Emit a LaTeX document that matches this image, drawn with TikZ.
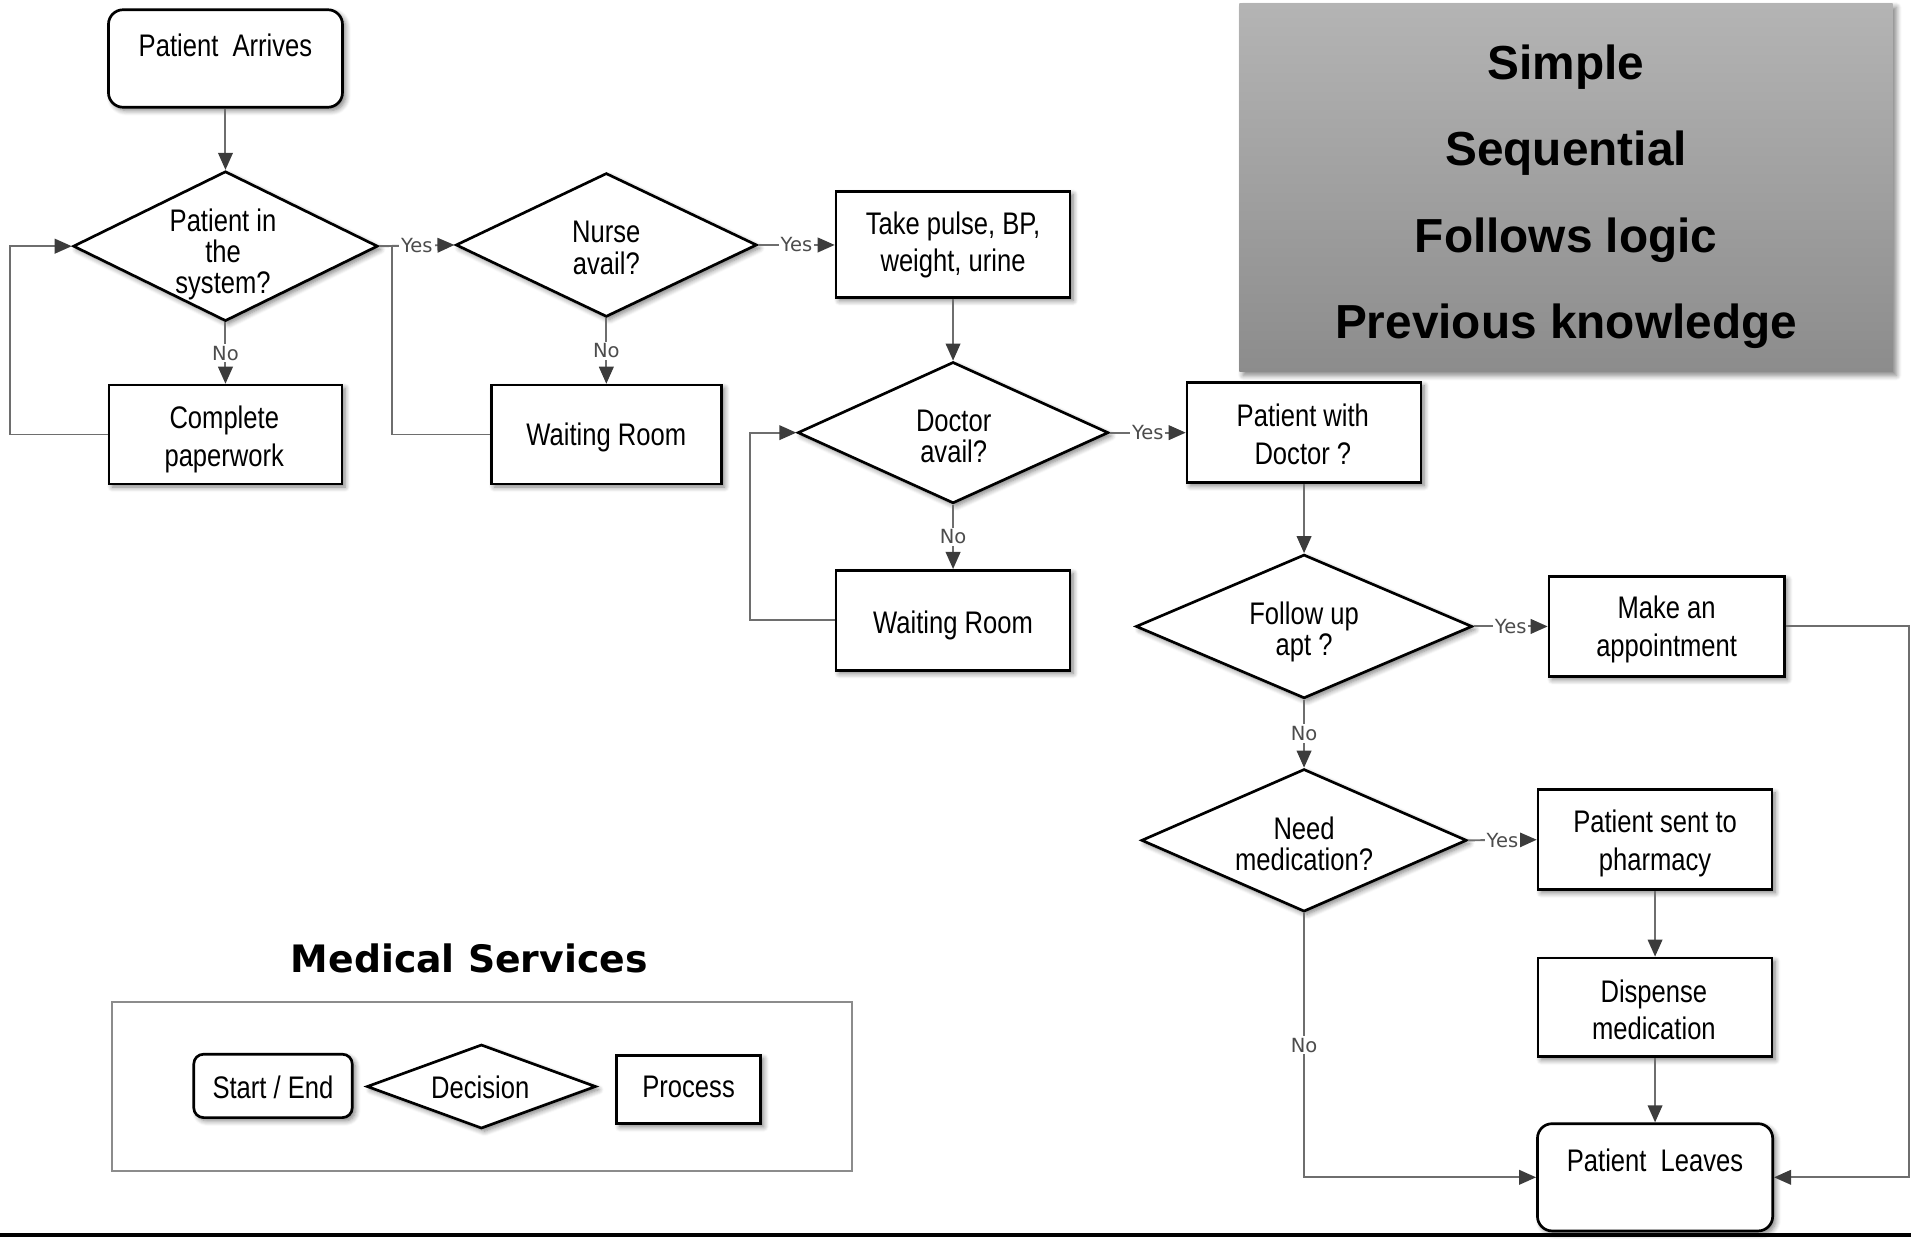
\documentclass[tikz,border=0pt]{standalone}
\usepackage{fontspec}
\setmainfont[FakeStretch=0.82]{Liberation Sans}
\newfontfamily\headfont{Liberation Sans}
\newfontfamily\tagfont{DejaVu Sans}
\usetikzlibrary{shapes.geometric,arrows.meta,shadows.blur}

\definecolor{linegray}{RGB}{110,110,110}
\definecolor{tipgray}{RGB}{60,60,60}
\definecolor{paneltop}{RGB}{180,180,180}
\definecolor{panelbot}{RGB}{140,140,140}

\begin{document}
\begin{tikzpicture}[x=0.5pt,y=-0.5pt,
  every node/.style={font=\fontsize{12.8}{15.5}\selectfont},
  soft/.style={blur shadow={shadow xshift=1.3pt,shadow yshift=-1.3pt,shadow blur steps=6,shadow opacity=50}},
  procbox/.style={draw=black,line width=1.1pt,fill=white,inner sep=0pt,soft},
  termbox/.style={procbox,rounded corners=6pt},
  decision/.style={diamond,draw=black,line width=1.1pt,fill=white,inner sep=0pt,soft},
  boxtext/.style={align=center,inner sep=0pt},
  dtext/.style={align=center,inner sep=0pt,font=\fontsize{12.8}{12.8}\selectfont},
  conn/.style={draw=linegray,line width=0.8pt},
  flow/.style={conn,-{Triangle[length=7pt,width=6pt,color=tipgray]}},
  tag/.style={font=\tagfont\fontsize{8}{8}\selectfont,text=black!70,fill=white,inner sep=0.8pt},
  headline/.style={font=\headfont\bfseries\fontsize{19.6}{19.6}\selectfont},
]
\useasboundingbox (0,0) rectangle (1568,1016);

% ---- summary panel ----
\node[minimum width=268pt,minimum height=151pt,top color=paneltop,bottom color=panelbot,
      blur shadow={shadow xshift=1.5pt,shadow yshift=-1.5pt,shadow blur steps=6,shadow opacity=50}] (panel) at (1285,154) {};
\node[headline] (h1) at (1285,55) {Simple};
\node[headline] (h2) at (1285,126) {Sequential};
\node[headline] (h3) at (1285,197) {Follows logic};
\node[headline] (h4) at (1285,268) {Previous knowledge};

% ---- flowchart nodes ----
\node[termbox,minimum width=96pt,minimum height=40pt] (pa) at (185,48) {};
\node[boxtext] (pat) at (185,37) {Patient~ Arrives};

\node[decision,minimum width=125pt,minimum height=61.5pt] (d1) at (185,202) {};
\node[dtext] (d1t) at (183,209) {Patient in\\the\\system?};

\node[procbox,minimum width=95.5pt,minimum height=40.5pt] (cp) at (185,356.5) {};
\node[boxtext] (cpt) at (184,360.5) {Complete\\paperwork};

\node[decision,minimum width=123.5pt,minimum height=59pt] (d2) at (497.5,201) {};
\node[dtext] (d2t) at (497.5,203.5) {Nurse\\avail?};

\node[procbox,minimum width=94.5pt,minimum height=40.5pt] (wr1) at (497.5,356.5) {};
\node[boxtext] (wr1t) at (497.5,359) {Waiting Room};

\node[procbox,minimum width=96pt,minimum height=43.5pt] (tp) at (782,200.5) {};
\node[boxtext] (tpt) at (782,201) {Take pulse, BP,\\weight, urine};

\node[decision,minimum width=127.5pt,minimum height=58pt] (d3) at (782,355) {};
\node[dtext] (d3t) at (782.5,358) {Doctor\\avail?};

\node[procbox,minimum width=96pt,minimum height=41pt] (wr2) at (782,509) {};
\node[boxtext] (wr2t) at (782,513.5) {Waiting Room};

\node[procbox,minimum width=96pt,minimum height=41pt] (pd) at (1070,355) {};
\node[boxtext] (pdt) at (1069,356.5) {Patient with\\Doctor ?};

\node[decision,minimum width=138pt,minimum height=59pt] (d4) at (1070,514) {};
\node[dtext] (d4t) at (1070,518.5) {Follow up\\apt ?};

\node[procbox,minimum width=96.5pt,minimum height=41pt] (ma) at (1367.5,514) {};
\node[boxtext] (mat) at (1367.5,516.5) {Make an\\appointment};

\node[decision,minimum width=133.5pt,minimum height=58.5pt] (d5) at (1070,689.5) {};
\node[dtext] (d5t) at (1070,692.5) {Need\\medication?};

\node[procbox,minimum width=96pt,minimum height=41pt] (ph) at (1358,689) {};
\node[boxtext] (pht) at (1358,692) {Patient sent to\\pharmacy};

\node[procbox,minimum width=96pt,minimum height=40.5pt] (dm) at (1358,826.5) {};
\node[boxtext] (dmt) at (1357,828.5) {Dispense\\medication};

\node[termbox,minimum width=96.5pt,minimum height=44pt] (pl) at (1358,966) {};
\node[boxtext] (plt) at (1358,952) {Patient~ Leaves};

% ---- connectors ----
\draw[flow] (pa) -- (d1);
\draw[flow] (d1) -- node[tag]{No} (cp);
\draw[flow] (d1.east) -- node[tag]{Yes} (d2.west);
\coordinate (c1) at (8,0);
\draw[flow] (cp.west) -- (cp.west -| c1) |- (d1.west);

\draw[flow] (d2) -- node[tag]{No} (wr1);
\coordinate (c2) at (322,0);
\draw[conn] (wr1.west) -| (c2 |- d1.east);
\draw[flow] (d2.east) -- node[tag]{Yes} (d2.east -| tp.west);

\draw[flow] (tp) -- (d3);
\draw[flow] (d3) -- node[tag]{No} (wr2);
\coordinate (c3) at (615,0);
\draw[flow] (wr2.west) -- (wr2.west -| c3) |- (d3.west);
\draw[flow] (d3.east) -- node[tag]{Yes} (pd.west);

\draw[flow] (pd) -- (d4);
\draw[flow] (d4.east) -- node[tag]{Yes} (ma.west);
\draw[flow] (d4) -- node[tag]{No} (d5);
\coordinate (c4) at (1566,0);
\draw[flow] (ma.east) -- (ma.east -| c4) |- (pl.east);

\draw[flow] (d5.east) -- node[tag]{Yes} (ph.west);
\draw[flow] (ph) -- (dm);
\draw[flow] (dm) -- (pl);
\draw[flow] (d5.south) |- node[tag,pos=0.25]{No} (pl.west);

% ---- legend ----
\node[font=\tagfont\bfseries\fontsize{15.5}{15.5}\selectfont] (legtitle) at (385,786) {Medical Services};
\node[draw=black!45,line width=0.8pt,minimum width=303.5pt,minimum height=69.5pt] (legend) at (395.5,891.5) {};
\node[termbox,rounded corners=4pt,minimum width=65pt,minimum height=26pt] (lse) at (224,891) {};
\node[boxtext] (lset) at (224,892) {Start / End};
\node[decision,minimum width=94pt,minimum height=34.5pt] (ldec) at (395,891.5) {};
\node[boxtext] (ldect) at (394,892) {Decision};
\node[procbox,minimum width=59pt,minimum height=28pt] (lpro) at (565,894) {};
\node[boxtext] (lprot) at (565,892) {Process};

% ---- base rule ----
\draw[line width=1.6pt] (0,1013) -- (1568,1013);
\end{tikzpicture}
\end{document}
